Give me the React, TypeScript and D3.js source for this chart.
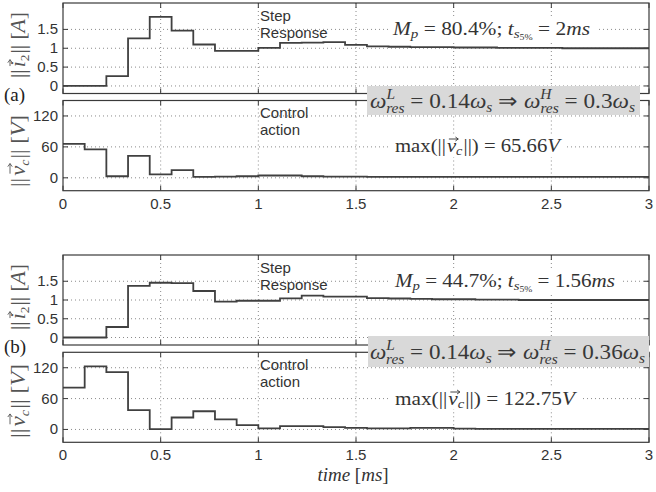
import React, { useLayoutEffect, useRef, useState } from "react";
import * as d3 from "d3";

// sample instants (ms), last entry closes the final hold
const sampleTimes = [0, 0.111, 0.222, 0.333, 0.444, 0.556, 0.667, 0.778, 0.889, 1.0, 1.111, 1.222, 1.333, 1.444, 1.556, 1.667, 1.778, 1.889, 2.0, 2.111, 2.222, 2.333, 2.444, 2.556, 2.667, 2.778, 2.889, 3.0];

// case (a)
const stepA = [0, 0, 0.26, 1.26, 1.83, 1.47, 1.1, 0.93, 0.93, 1.01, 1.14, 1.15, 1.16, 1.09, 1.05, 1.04, 1.03, 1.03, 1.02, 1.02, 1.01, 1.01, 1.01, 1.0, 1.0, 1.0, 1.0, 1.0];
const ctrlA = [65.66, 55, 3, 42.6, 6.5, 15, 2, 2.5, 3, 4.5, 4.5, 3, 2.5, 2.5, 2, 2, 2, 2, 2, 2, 2, 2, 2, 2, 2, 2, 2, 2];

// case (b)
const stepB = [0, 0, 0.28, 1.375, 1.46, 1.45, 1.24, 0.955, 0.98, 0.98, 1.045, 1.115, 1.09, 1.09, 1.05, 1.04, 1.03, 1.02, 1.02, 1.01, 1.01, 1.0, 1.0, 1.0, 1.0, 1.0, 1.0, 1.0];
const ctrlB = [81.3, 122.75, 111.5, 37.4, 0.6, 23.2, 35.4, 19.4, 8.3, 1.9, 6.4, 6.4, 4.5, 3, 2, 2, 3, 3, 1.5, 1, 1, 1, 1, 1, 1, 1, 1, 1];

const xTicks = [0, 0.5, 1, 1.5, 2, 2.5, 3];
const xTickLabels = ["0", "0.5", "1", "1.5", "2", "2.5", "3"];
const stepTicks = [0, 0.5, 1, 1.5];
const stepTickLabels = ["0", "0.5", "1", "1.5"];
const ctrlTicks = [0, 60, 120];
const ctrlTickLabels = ["0", "60", "120"];

const SANS = "'Liberation Sans', Arial, Helvetica, sans-serif";
const SERIF = "'Liberation Serif', 'Times New Roman', serif";
const AXC = "#3a3a3a";
const LINEC = "#404040";

const x = d3.scaleLinear().domain([0, 3]).range([63, 649]);

type PanelProps = {
  yDomain: [number, number];
  yRange: [number, number];
  ticks: number[];
  tickLabels: string[];
  values: number[];
  showX: boolean;
};

function Panel({ yDomain, yRange, ticks, tickLabels, values, showX }: PanelProps) {
  const y = d3.scaleLinear().domain(yDomain).range(yRange);
  const pts: [number, number][] = sampleTimes.map((t, i) => [t, values[i]]);
  const line = d3
    .line<[number, number]>()
    .x((d) => x(d[0]))
    .y((d) => y(d[1]))
    .curve(d3.curveStepAfter);
  const [x0, x1] = x.range();
  const yb = yRange[0];
  const yt = yRange[1];
  return (
    <g>
      {xTicks.slice(1, -1).map((t) => (
        <line key={"gx" + t} x1={x(t)} x2={x(t)} y1={yt} y2={yb} stroke="#8a8a8a" strokeWidth={1} strokeDasharray="1 3" />
      ))}
      {ticks.map((t) => (
        <line key={"gy" + t} x1={x0} x2={x1} y1={y(t)} y2={y(t)} stroke="#8a8a8a" strokeWidth={1} strokeDasharray="1 3" />
      ))}
      {xTicks.map((t) => (
        <g key={"tx" + t}>
          <line x1={x(t)} x2={x(t)} y1={yb} y2={yb - 5} stroke={AXC} strokeWidth={1} />
          <line x1={x(t)} x2={x(t)} y1={yt} y2={yt + 5} stroke={AXC} strokeWidth={1} />
        </g>
      ))}
      {ticks.map((t) => (
        <g key={"ty" + t}>
          <line x1={x0} x2={x0 + 5} y1={y(t)} y2={y(t)} stroke={AXC} strokeWidth={1} />
          <line x1={x1} x2={x1 - 5} y1={y(t)} y2={y(t)} stroke={AXC} strokeWidth={1} />
        </g>
      ))}
      <path d={line(pts) || ""} fill="none" stroke={LINEC} strokeWidth={1.8} />
      <rect x={x0} y={yt} width={x1 - x0} height={yb - yt} fill="none" stroke={AXC} strokeWidth={1.2} />
      {ticks.map((t, i) => (
        <text key={"ly" + t} x={x0 - 5} y={y(t) + 5} textAnchor="end" fontFamily={SANS} fontSize={15} fill="#333">
          {tickLabels[i]}
        </text>
      ))}
      {showX &&
        xTicks.map((t, i) => (
          <text key={"lx" + t} x={x(t)} y={yb + 18} textAnchor="middle" fontFamily={SANS} fontSize={15} fill="#333">
            {xTickLabels[i]}
          </text>
        ))}
    </g>
  );
}

type Box = { x: number; w: number } | null;

function useSpanBox(ref: React.RefObject<SVGTSpanElement | null>): Box {
  const [b, setB] = useState<Box>(null);
  useLayoutEffect(() => {
    const el = ref.current as any;
    if (el && el.getBBox) {
      const bb = el.getBBox();
      setB({ x: bb.x, w: bb.width });
    }
  }, []);
  return b;
}

function Arrow({ box, y, color, head = 2.2 }: { box: Box; y: number; color: string; head?: number }) {
  if (!box) return null;
  const x1 = box.x + box.w * 0.2;
  const x2 = box.x + box.w + 1.5;
  return (
    <path
      d={`M${x1},${y}L${x2},${y}M${x2 - head * 1.4},${y - head}L${x2},${y}L${x2 - head * 1.4},${y + head}`}
      fill="none"
      stroke={color}
      strokeWidth={0.9}
    />
  );
}

function NormLabel({ cx, cy, letter, sub, subItalic, unit, len }: { cx: number; cy: number; letter: string; sub: string; subItalic: boolean; unit: string; len: number }) {
  const ref = useRef<SVGTSpanElement>(null);
  const box = useSpanBox(ref);
  return (
    <g transform={`translate(${cx},${cy}) rotate(-90)`}>
      <text x={-len / 2} y={0} fontFamily={SERIF} fontSize={21} fill="#555" textLength={len} lengthAdjust="spacingAndGlyphs">
        <tspan>||</tspan>
        <tspan ref={ref} fontStyle="italic" dx={2}>{letter}</tspan>
        <tspan fontSize={13} fontStyle={subItalic ? "italic" : "normal"} dy={4}>{sub}</tspan>
        <tspan dy={-4} dx={1}>|| [</tspan>
        <tspan fontStyle="italic">{unit}</tspan>]
      </text>
      <Arrow box={box} y={-15} color="#555" />
    </g>
  );
}

function MpText({ cx, y, mp, ts, len }: { cx: number; y: number; mp: string; ts: string; len: number }) {
  return (
    <text x={cx - len / 2} y={y} fontFamily={SERIF} fontSize={18.5} fill="#333" textLength={len} lengthAdjust="spacingAndGlyphs">
      <tspan fontStyle="italic">M</tspan>
      <tspan fontStyle="italic" fontSize={13} dy={3}>p</tspan>
      <tspan dy={-3}>{" = " + mp + "%; "}</tspan>
      <tspan fontStyle="italic">t</tspan>
      <tspan fontStyle="italic" fontSize={13} dy={3}>s</tspan>
      <tspan fontSize={8.5} dy={2}>5%</tspan>
      <tspan dy={-5}>{" = " + ts}</tspan>
      <tspan fontStyle="italic">ms</tspan>
    </text>
  );
}

function MaxText({ x0, y, v, len }: { x0: number; y: number; v: string; len: number }) {
  const ref = useRef<SVGTSpanElement>(null);
  const box = useSpanBox(ref);
  return (
    <g>
      <text x={x0} y={y} fontFamily={SERIF} fontSize={19} fill="#333" textLength={len} lengthAdjust="spacingAndGlyphs">
        max(||<tspan ref={ref} fontStyle="italic" dx={1}>v</tspan>
        <tspan fontStyle="italic" fontSize={13} dy={3}>c</tspan>
        <tspan dy={-3} dx={1}>{"||) = " + v}</tspan>
        <tspan fontStyle="italic">V</tspan>
      </text>
      <Arrow box={box} y={y - 13} color="#333" head={2} />
    </g>
  );
}

function OmegaText({ x0, y, hi, len }: { x0: number; y: number; hi: string; len: number }) {
  return (
    <text x={x0} y={y} fontFamily={SERIF} fontSize={21} fill="#383838" textLength={len} lengthAdjust="spacingAndGlyphs">
      <tspan fontStyle="italic">ω</tspan>
      <tspan fontStyle="italic" fontSize={14} dy={-9}>L</tspan>
      <tspan fontStyle="italic" fontSize={14} dx={-8} dy={14}>res</tspan>
      <tspan dy={-5}>{" = 0.14"}</tspan>
      <tspan fontStyle="italic">ω</tspan>
      <tspan fontStyle="italic" fontSize={14} dy={4}>s</tspan>
      <tspan dy={-4}>{" ⇒ "}</tspan>
      <tspan fontStyle="italic">ω</tspan>
      <tspan fontStyle="italic" fontSize={14} dy={-9}>H</tspan>
      <tspan fontStyle="italic" fontSize={14} dx={-10} dy={14}>res</tspan>
      <tspan dy={-5}>{" = " + hi}</tspan>
      <tspan fontStyle="italic">ω</tspan>
      <tspan fontStyle="italic" fontSize={14} dy={4}>s</tspan>
    </text>
  );
}

function SansNote({ x0, y, l1, l2 }: { x0: number; y: number; l1: string; l2: string }) {
  return (
    <g fontFamily={SANS} fontSize={15} fill="#333">
      <text x={x0} y={y}>{l1}</text>
      <text x={x0} y={y + 17}>{l2}</text>
    </g>
  );
}

export default function App() {
  return (
    <svg width={656} height={492} style={{ position: "absolute", left: 0, top: 0, background: "#fff" }}>
      <rect x={0} y={0} width={656} height={492} fill="#fff" />
      {/* (a) */}
      <Panel yDomain={[-0.2, 2.2]} yRange={[93.5, 3]} ticks={stepTicks} tickLabels={stepTickLabels} values={stepA} showX={false} />
      <Panel yDomain={[-25, 150]} yRange={[190.7, 100.5]} ticks={ctrlTicks} tickLabels={ctrlTickLabels} values={ctrlA} showX={true} />
      {/* (b) */}
      <Panel yDomain={[-0.2, 2.2]} yRange={[345, 255]} ticks={stepTicks} tickLabels={stepTickLabels} values={stepB} showX={false} />
      <Panel yDomain={[-25, 150]} yRange={[442.3, 352.3]} ticks={ctrlTicks} tickLabels={ctrlTickLabels} values={ctrlB} showX={true} />

      <NormLabel cx={25} cy={45} letter="i" sub="2" subItalic={false} unit="A" len={66} />
      <NormLabel cx={25} cy={151} letter="v" sub="c" subItalic={true} unit="V" len={72} />
      <NormLabel cx={25} cy={297} letter="i" sub="2" subItalic={false} unit="A" len={66} />
      <NormLabel cx={25} cy={401} letter="v" sub="c" subItalic={true} unit="V" len={74} />

      <SansNote x0={260} y={21} l1="Step" l2="Response" />
      <SansNote x0={260} y={118} l1="Control" l2="action" />
      <SansNote x0={260} y={273} l1="Step" l2="Response" />
      <SansNote x0={260} y={370} l1="Control" l2="action" />

      <rect x={389} y={19} width={209} height={21} fill="#fff" />
      <MpText cx={491.5} y={35} mp="80.4" ts="2" len={197} />
      <rect x={390} y={136} width={176} height={21} fill="#fff" />
      <MaxText x0={395} y={152} v="65.66" len={165} />

      <rect x={390} y={271} width={230} height={21} fill="#fff" />
      <MpText cx={505} y={287} mp="44.7" ts="1.56" len={220} />
      <rect x={390} y={388} width={190} height={21} fill="#fff" />
      <MaxText x0={395} y={405} v="122.75" len={180} />

      <rect x={367} y={86} width={273} height={29} fill="#d9d9d9" />
      <OmegaText x0={370} y={108} hi="0.3" len={265} />
      <rect x={368} y={336} width={281} height={31} fill="#d9d9d9" />
      <OmegaText x0={370} y={359} hi="0.36" len={275} />

      <text x={4} y={101} fontFamily={SERIF} fontSize={19} fill="#222">(a)</text>
      <text x={4} y={353} fontFamily={SERIF} fontSize={19} fill="#222">(b)</text>

      <text x={353} y={481} textAnchor="middle" fontFamily={SERIF} fontSize={19} fill="#333">
        <tspan fontStyle="italic">time</tspan> [<tspan fontStyle="italic">ms</tspan>]
      </text>
    </svg>
  );
}
